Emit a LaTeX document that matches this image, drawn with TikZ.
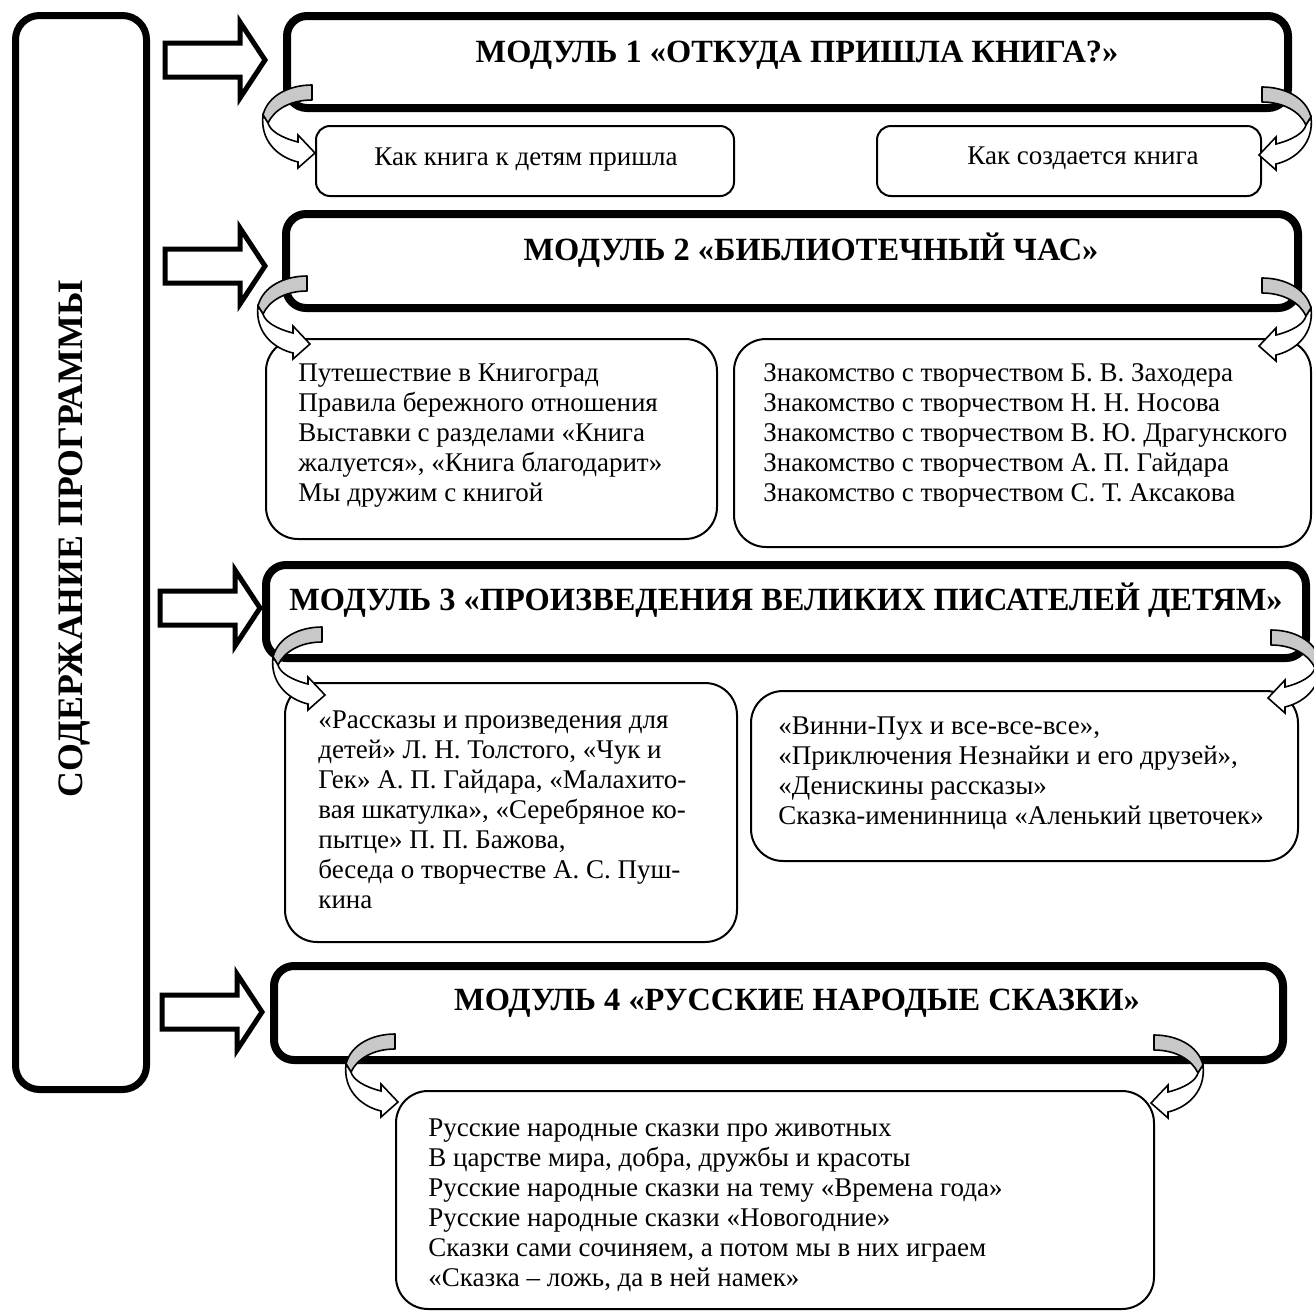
\documentclass[tikz,border=0pt]{standalone}
\usepackage{fontspec}
\setmainfont{Liberation Serif}
\font\titlebf="Liberation Serif/B" at 16.2pt
\font\sidebf="Liberation Serif/B" at 17.9pt
\usetikzlibrary{fit}
\definecolor{bandgray}{RGB}{200,200,200}
\tikzset{
  curvarr/.pic={
    \draw[line width=0.8pt, fill=bandgray, line join=round]
      (0,0) -- (0,15) .. controls (-22,15) and (-38,25) .. (-44,38)
      -- (-49,30) .. controls (-44,10) and (-22,0) .. (0,0) -- cycle;
    \draw[line width=0.8pt, fill=white, line join=miter]
      (-49,30) .. controls (-52,55) and (-35,72) .. (-14,77)
      -- (-14,83) -- (3,68) -- (-14,50) -- (-14,57)
      .. controls (-30,53) and (-42,46) .. (-44,38) -- cycle;
  },
  blockarr/.pic={
    \draw[draw, fill=white, line width=2.5pt, miter limit=10]
      (0,-17) -- (75,-17) -- (75,-38) -- (100,0) -- (75,38) -- (75,17) -- (0,17) -- cycle;
  }
}
\begin{document}
\begin{tikzpicture}[x=0.5pt,y=-0.5pt,
  modbox/.style={draw, line width=4pt, rounded corners=10pt, inner sep=0pt},
  subbox/.style={draw, line width=1pt, rounded corners=16pt, inner sep=0pt},
  smallbox/.style={draw, line width=1pt, rounded corners=7pt, inner sep=0pt},
  sidebox/.style={draw, line width=3.5pt, rounded corners=12pt, inner sep=0pt},
  title/.style={font=\titlebf, inner sep=0pt},
  sidetitle/.style={font=\sidebf, inner sep=0pt},
  body/.style={font=\fontsize{13.5}{15}\selectfont, inner sep=0pt, align=left, anchor=north west},
  single/.style={font=\fontsize{13.5}{15}\selectfont, inner sep=0pt}
]
\useasboundingbox (0,0) rectangle (1314,1313);

% side box
\node[sidebox, fit={(15.5,15.5)(146.5,1089.5)}] (side) {};
\node[sidetitle, rotate=90] (sidetxt) at (74,539) {СОДЕРЖАНИЕ ПРОГРАММЫ};

% block arrows
\path (165,60) pic {blockarr};
\path (165,266) pic {blockarr};
\path (160,608) pic {blockarr};
\path (162,1012) pic {blockarr};

% module boxes
\node[modbox, fit={(287,16)(1288,108)}] (m1) {};
\node[modbox, fit={(286,214)(1298,308)}] (m2) {};
\node[modbox, fit={(266,565)(1306,658)}] (m3) {};
\node[modbox, fit={(274,966)(1283,1060)}] (m4) {};

\node[title] (t1) at (797,55) {МОДУЛЬ 1 «ОТКУДА ПРИШЛА КНИГА?»};
\node[title] (t2) at (811,250) {МОДУЛЬ 2 «БИБЛИОТЕЧНЫЙ ЧАС»};
\node[title] (t3) at (786,600) {МОДУЛЬ 3 «ПРОИЗВЕДЕНИЯ ВЕЛИКИХ ПИСАТЕЛЕЙ ДЕТЯМ»};
\node[title] (t4) at (797,1003) {МОДУЛЬ 4 «РУССКИЕ НАРОДЫЕ СКАЗКИ»};

% sub boxes
\node[smallbox, fit={(316,126)(734,196)}] (s1a) {};
\node[smallbox, fit={(877,126)(1261,196)}] (s1b) {};
\node[single] (s1atxt) at (526,160) {Как книга к детям пришла};
\node[single] (s1btxt) at (1083,158) {Как создается книга};

\node[subbox, fit={(266,339)(717,539)}] (s2a) {};
\node[subbox, fit={(734,339)(1311,547)}] (s2b) {};
\node[body] (s2atxt) at (298,363) {Путешествие в Книгоград\\Правила бережного отношения\\Выставки с разделами «Книга\\жалуется», «Книга благодарит»\\Мы дружим с книгой};
\node[body] (s2btxt) at (763,363) {Знакомство с творчеством Б. В. Заходера\\Знакомство с творчеством Н. Н. Носова\\Знакомство с творчеством В. Ю. Драгунского\\Знакомство с творчеством А. П. Гайдара\\Знакомство с творчеством С. Т. Аксакова};

\node[subbox, fit={(285,683)(737,942)}] (s3a) {};
\node[subbox, fit={(751,691)(1298,861)}] (s3b) {};
\node[body] (s3atxt) at (318,710) {«Рассказы и произведения для\\детей» Л. Н. Толстого, «Чук и\\Гек» А. П. Гайдара, «Малахито-\\вая шкатулка», «Серебряное ко-\\пытце» П. П. Бажова,\\беседа о творчестве А. С. Пуш-\\кина};
\node[body] (s3btxt) at (778,716) {«Винни-Пух и все-все-все»,\\«Приключения Незнайки и его друзей»,\\«Денискины рассказы»\\Сказка-именинница «Аленький цветочек»};

\node[subbox, fit={(396,1091)(1154,1309)}] (s4) {};
\node[body] (s4txt) at (428,1118) {Русские народные сказки про животных\\В царстве мира, добра, дружбы и красоты\\Русские народные сказки на тему «Времена года»\\Русские народные сказки «Новогодние»\\Сказки сами сочиняем, а потом мы в них играем\\«Сказка – ложь, да в ней намек»};

% curved arrows
\path (312,85) pic {curvarr};
\path (1262,87) pic[xscale=-1] {curvarr};
\path (307,276) pic {curvarr};
\path (1262,278) pic[xscale=-1] {curvarr};
\path (322,627) pic {curvarr};
\path (1271,630) pic[xscale=-1] {curvarr};
\path (395,1034) pic {curvarr};
\path (1154,1035) pic[xscale=-1] {curvarr};
\end{tikzpicture}
\end{document}
